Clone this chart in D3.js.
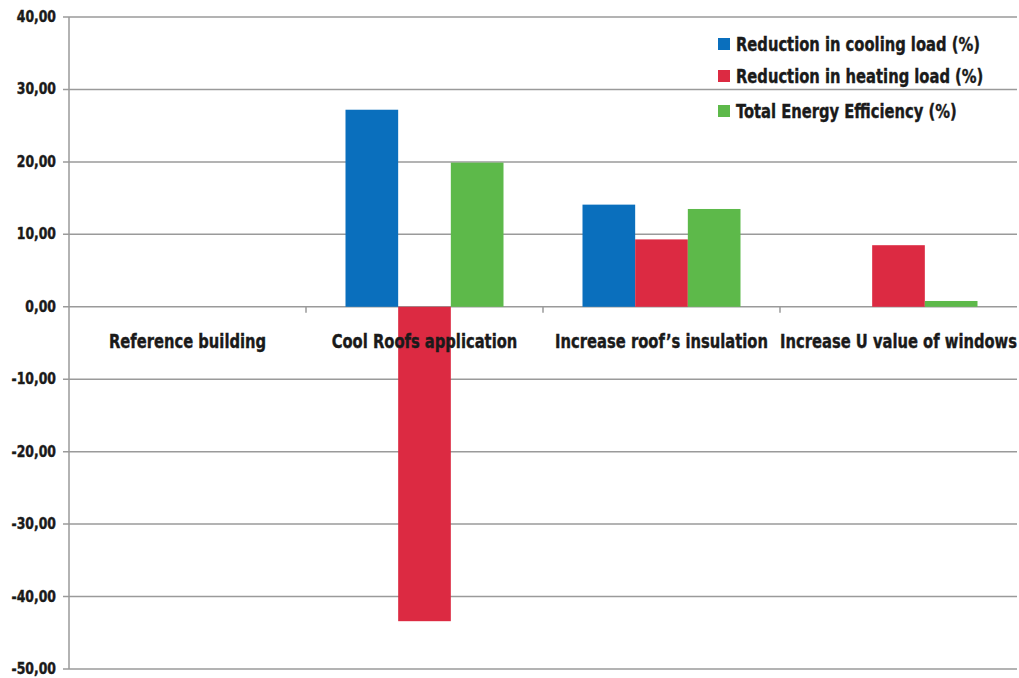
<!DOCTYPE html>
<html><head><meta charset="utf-8">
<script src="https://cdn.jsdelivr.net/npm/d3@7"></script>
<style>
html,body{margin:0;padding:0;background:#fff;}
svg text{font-family:"Liberation Sans Narrow","DejaVu Sans Condensed","Roboto Condensed",sans-serif;font-weight:bold;fill:#1a1a1a;stroke:#1a1a1a;stroke-width:0.4px;}
</style></head>
<body><svg id="c" width="1019" height="678"></svg>
<script>
const categories = ["Reference building","Cool Roofs application","Increase roof\u2019s insulation","Increase U value of windows"];
const seriesNames = ["Reduction in cooling load (%)","Reduction in heating load (%)","Total Energy Efficiency (%)"];
const cooling = [0, 27.2, 14.1, 0];
const heating = [0, -43.4, 9.3, 8.5];
const total = [0, 19.9, 13.5, 0.8];
const yTicks = [40,30,20,10,0,-10,-20,-30,-40,-50];
const colors = ["#0a6fbd","#dc2a42","#5db94a"];

const series = [cooling, heating, total];
const svg = d3.select("#c");
const x0 = d3.scaleBand().domain(categories).range([69,1017]);
const y = d3.scaleLinear().domain([-50,40]).range([669,17]);
const inner = d3.scaleBand().domain(d3.range(3)).range([0,x0.bandwidth()]).paddingOuter(0.75).paddingInner(0);
const SX = 0.82;

// gridlines
svg.append("g").selectAll("line").data(yTicks).join("line")
  .attr("x1",63).attr("x2",1017).attr("y1",d=>y(d)).attr("y2",d=>y(d))
  .attr("stroke","#9a9a9a").attr("stroke-width",1.5);
// y axis line
svg.append("line").attr("x1",69).attr("x2",69).attr("y1",y(40)).attr("y2",y(-50)).attr("stroke","#9a9a9a").attr("stroke-width",1.5);
// y labels
svg.append("g").selectAll("text").data(yTicks).join("text")
  .attr("transform",d=>`translate(56,${y(d)+5}) scale(0.92,1)`).attr("text-anchor","end").attr("font-size",15)
  .text(d=>d3.format(".2f")(d).replace(".",",").replace("\u2212","-"));

// bars
categories.forEach((c,ci)=>{
  series.forEach((s,si)=>{
    const v=s[ci];
    if(v===0) return;
    svg.append("rect").attr("x",x0(c)+inner(si)).attr("width",inner.bandwidth())
      .attr("y",y(Math.max(0,v))).attr("height",Math.abs(y(v)-y(0)))
      .attr("fill",colors[si]);
  });
});
// category ticks
svg.append("g").selectAll("line").data(categories.slice(1)).join("line")
  .attr("x1",d=>x0(d)).attr("x2",d=>x0(d)).attr("y1",y(0)).attr("y2",y(0)+6)
  .attr("stroke","#9a9a9a").attr("stroke-width",1.5);
// category labels
svg.append("g").selectAll("text").data(categories).join("text")
  .attr("transform",d=>`translate(${x0(d)+x0.bandwidth()/2},348) scale(${SX},1)`).attr("text-anchor","middle")
  .attr("font-size",20).text(d=>d);

// legend
const lg = svg.append("g");
lg.append("rect").attr("x",705).attr("y",22).attr("width",290).attr("height",60).attr("fill","#fff");
lg.append("rect").attr("x",705).attr("y",96).attr("width",290).attr("height",34).attr("fill","#fff");
seriesNames.forEach((n,i)=>{
  const yy=[44,76,111][i];
  lg.append("rect").attr("x",718).attr("y",yy-6).attr("width",12).attr("height",12).attr("fill",colors[i]);
  lg.append("text").attr("transform",`translate(736,${yy+7}) scale(${SX},1)`).attr("font-size",20).text(n);
});
</script></body></html>
